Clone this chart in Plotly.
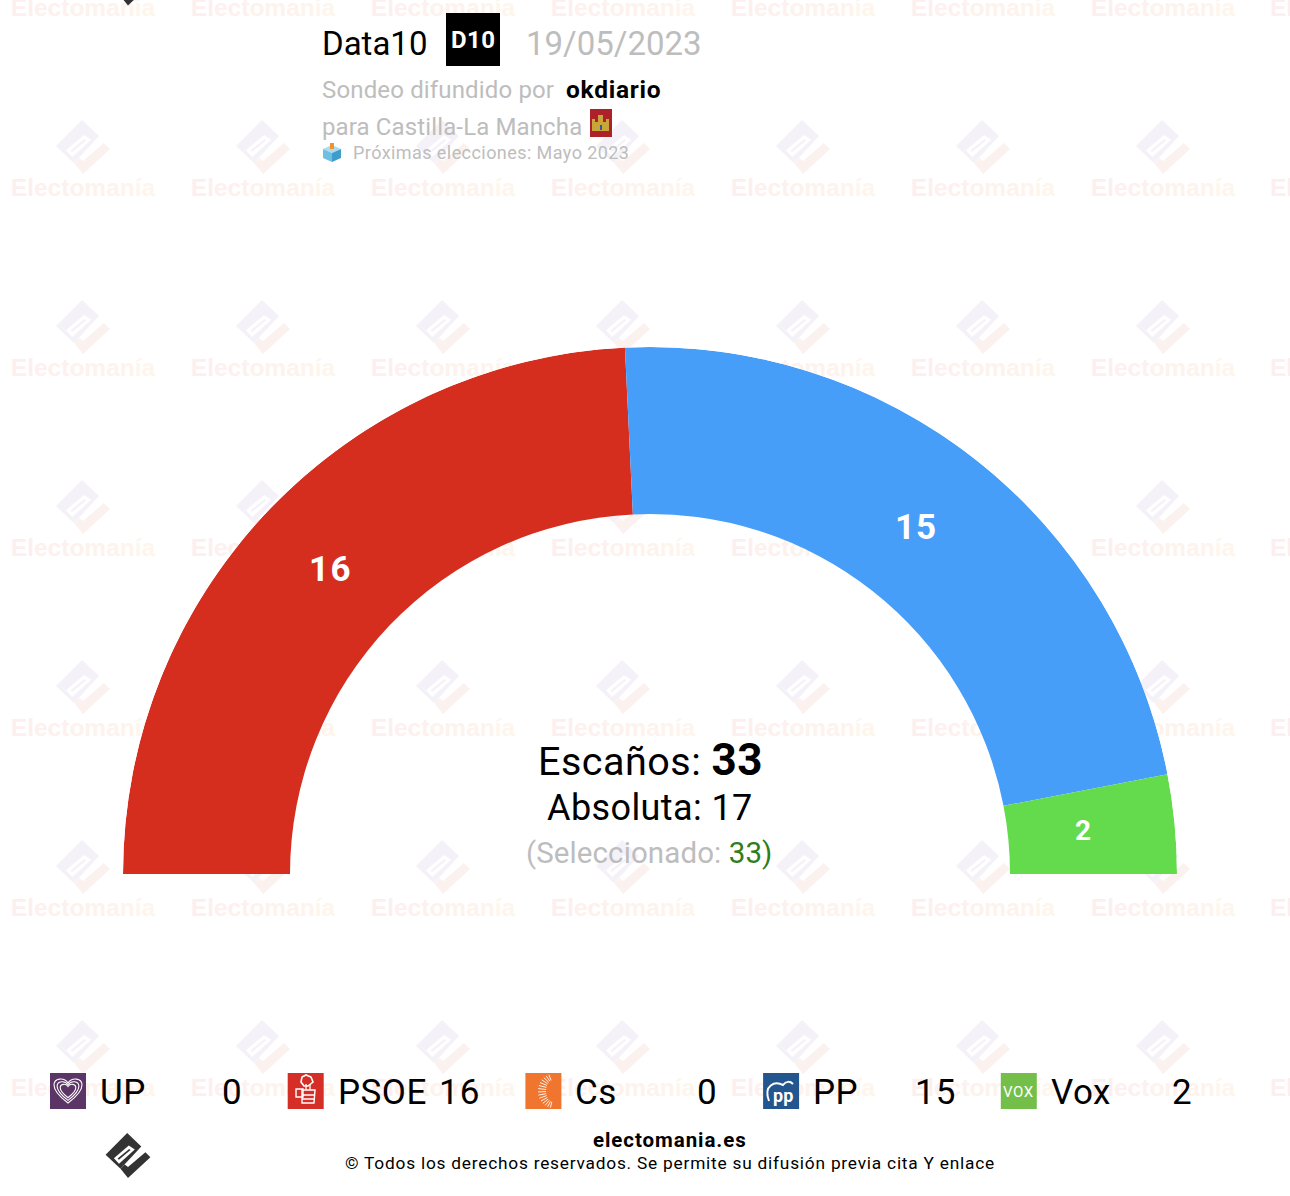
import math
import plotly.graph_objects as go

# ---- data ----
parties = ["UP", "PSOE", "Cs", "PP", "Vox"]
seats = [0, 16, 0, 15, 2]
arc_colors = ["#5a3566", "#d52e1f", "#f0752e", "#469ef9", "#64db4c"]
icon_colors = ["#5a3566", "#d42e26", "#f0752e", "#23558f", "#74bf4a"]
total_seats = 33
majority = 17
selected = 33
pollster = "Data10"
poll_date = "19/05/2023"
media = "okdiario"
region = "Castilla-La Mancha"
next_election = "Próximas elecciones: Mayo 2023"

FONT = "Roboto"
GREY = "#bdbdbd"
W, H = 1290, 1196
CX, CY, R_OUT, R_IN = 650, 874, 527, 360

# ---- half-donut ----
total = sum(seats)
start, widths, centers = 0, [], []
for s in seats:
    w = 180 * s / total
    widths.append(w)
    centers.append(start + w / 2)
    start += w

shapes, annos = [], []


def text(x, y, s, size, color="#000", anchor="center", bold=False, ls=0.0):
    body = f"<b>{s}</b>" if bold else s
    if ls:
        body = f'<span style="letter-spacing:{ls}px">{body}</span>'
    annos.append(dict(x=x, y=y, xref="x", yref="y", text=body,
                      showarrow=False, xanchor=anchor, yanchor="middle", borderpad=0, borderwidth=0,
                      font=dict(family=FONT, size=size, color=color)))


def logo(cx, cy, k, c1, c2, layer="below"):
    pts_a = [(-1, -27), (16, -11), (-9, 16), (-27, -1)]
    hole = [(1, -12), (8.2, -7.2), (-10.8, 10), (-17, 3.3)]
    slot = [(1.5, -8), (3, -6.5), (-11, 5), (-12.5, 3.5)]
    tick = [(-9, 16), (0, 27), (27, 2), (21, -4), (0, 14), (-4, 11)]

    def p(pts):
        return "M" + " L".join(f"{cx + x * k:.1f},{cy + y * k:.1f}" for x, y in pts) + " Z"
    shapes.append(dict(type="path", xref="x", yref="y", layer=layer, line_width=0, fillcolor=c1,
                       path=p(pts_a) + " " + p(hole) + " " + p(slot)))
    shapes.append(dict(type="path", xref="x", yref="y", layer=layer, line_width=0, fillcolor=c2, path=p(tick)))


# ---- watermark ----
wm_word = "Electomanía"
wm_cols = ["#fdefef", "#fdefef", "#fdf0ee", "#fdf0ed", "#fdf1ed", "#fdf2ec", "#fef3ec",
           "#fef3ec", "#fef4ec", "#fef5ec", "#fef5ec"]
wm_text = "".join(f'<span style="color:{c}">{ch}</span>' for ch, c in zip(wm_word, wm_cols))
wm_x, wm_y, wm_edge_y = [], [], []
for j in range(7):
    wm_edge_y.append(8 + 180 * j)
    for i in range(7):
        wm_x.append(83 + 180 * i)
        wm_y.append(8 + 180 * j)
        if j < 6:
            logo(83 + 180 * i, 147 + 180 * j, 1.0, "#f5f1f8", "#fbf2f0")

# ---- top block ----
logo(128, -17, 0.83, "#333333", "#333333", layer="above")
text(322, 43, pollster, 33, anchor="left")
shapes.append(dict(type="rect", xref="x", yref="y", x0=446, x1=500, y0=13, y1=66,
                   fillcolor="#000", line_width=0, layer="above"))
text(473, 40, "D10", 24, color="#fff", bold=True, ls=0.5)
text(526, 43, poll_date, 33, color=GREY, anchor="left")
text(322, 90, "Sondeo difundido por", 24, color=GREY, anchor="left", ls=0.15)
text(566, 89.5, media, 24.5, bold=True, anchor="left", ls=0.75)
text(322, 127, "para " + region, 24, color=GREY, anchor="left", ls=0.13)
text(353, 152, next_election, 18, color=GREY, anchor="left", ls=0.43)
# flag
shapes.append(dict(type="rect", xref="x", yref="y", x0=590, x1=612, y0=109, y1=137,
                   fillcolor="#ad2229", line_width=0, layer="above"))
shapes.append(dict(type="path", xref="x", yref="y", layer="above", line_width=0, fillcolor="#c9a63a",
                   path="M592,131 L592,119 L595,119 L595,122 L598,122 L598,115 L603,115 L603,122 L606,122"
                        " L606,119 L609,119 L609,131 Z"))
shapes.append(dict(type="rect", xref="x", yref="y", x0=600, x1=602, y0=125, y1=130,
                   fillcolor="#2b5aa8", line_width=0, layer="above"))
# ballot box
shapes.append(dict(type="path", xref="x", yref="y", layer="above", line_width=0, fillcolor="#a9dcf2",
                   path="M323,149 L332,145 L341,149 L332,153 Z"))
shapes.append(dict(type="path", xref="x", yref="y", layer="above", line_width=0, fillcolor="#6fbfe3",
                   path="M323,149 L332,153 L332,162 L323,158 Z"))
shapes.append(dict(type="path", xref="x", yref="y", layer="above", line_width=0, fillcolor="#3f9dcb",
                   path="M341,149 L332,153 L332,162 L341,158 Z"))
shapes.append(dict(type="rect", xref="x", yref="y", x0=330, x1=334, y0=143, y1=149,
                   fillcolor="#f0932b", line_width=0, layer="above"))

# ---- centre text ----
text(650, 760, f'Escaños: <b style="font-size:44px">{total_seats}</b>', 39.5, ls=0.5)
text(650, 807.5, f"Absoluta: {majority}", 36, ls=0.4)
text(649, 853, f'(Seleccionado: <span style="color:#2f7d1b">{selected})</span>', 29.5, color=GREY, ls=0.1)

# ---- labels inside the arc ----
label_pos = {"PSOE": (330.5, 569, 35, 1.5), "PP": (915.5, 527, 35, 1.0), "Vox": (1083, 830, 28, 0)}
for name, s in zip(parties, seats):
    if name in label_pos:
        lx, ly, ls_, lsp = label_pos[name]
        text(lx, ly, str(s), ls_, color="#fff", bold=True, ls=lsp)

# ---- legend row ----
STEP = 237.7
for i, (name, s, col) in enumerate(zip(parties, seats, icon_colors)):
    x0 = 50 + STEP * i
    shapes.append(dict(type="rect", xref="x", yref="y", x0=x0, x1=x0 + 36, y0=1073, y1=1109,
                       fillcolor=col, line_width=0, layer="above"))
    text(x0 + 50, 1092, name, 35, anchor="left", ls=0.5)
    text(242.5 + STEP * i, 1092, str(s), 35, anchor="right", ls=1.0)


def white(path, width=1.0, fill="rgba(0,0,0,0)"):
    shapes.append(dict(type="path", xref="x", yref="y", layer="above", path=path, fillcolor=fill,
                       line=dict(color="#fff", width=width)))


# UP heart
for k in (1.0, 0.78, 0.56):
    c = lambda dx, dy: f"{68 + dx * k:.1f},{1091 + dy * k:.1f}"
    white(f"M{c(0, 12)} C{c(-8, 6)} {c(-14, 0)} {c(-14, -6)} C{c(-14, -13)} {c(-4, -14)} {c(0, -8)}"
          f" C{c(4, -14)} {c(14, -13)} {c(14, -6)} C{c(14, 0)} {c(8, 6)} {c(0, 12)} Z", 1.1)
# PSOE fist and rose
white("M302,1090 L302,1103 L314,1103 L315,1090 Z", 1.4)
white("M296,1089 L303,1089 L303,1097 L296,1097 Z", 1.4)
white("M306,1090 L306,1084 M310,1090 L310,1084 M302,1095 L315,1095 M302,1099 L315,1099", 1.3)
white("M301,1082 L302,1077 L306,1075 L311,1077 L313,1082 L308,1086 L304,1086 Z", 1.6)
# Cs rays
for a in range(100, 265, 11):
    ca, sa = math.cos(math.radians(a)), math.sin(math.radians(a))
    white(f"M{553 + 7 * ca:.1f},{1091 + 11 * sa:.1f} L{553 + 15 * ca:.1f},{1091 + 17 * sa:.1f}", 0.9)
# PP
white("M769,1101 C763,1085 775,1081 783,1085 C786,1081 790,1081 793,1084", 2)
text(783, 1095, "pp", 18, color="#fff", bold=True)
# Vox
text(1018, 1092, "VOX", 15, color="#fff", ls=0.6)

# ---- footer ----
logo(128, 1155.5, 0.83, "#333333", "#333333", layer="above")
text(669.5, 1140, "electomania.es", 20.5, bold=True, ls=0.93)
text(669.5, 1163, "© Todos los derechos reservados. Se permite su difusión previa cita Y enlace", 17.3, ls=0.78)

fig = go.Figure()
wm_font = dict(family="Liberation Sans", size=24.5, color="#fdf1ec")
fig.add_trace(go.Scatter(x=wm_x, y=[v + 2 for v in wm_y], mode="text", text=[f"<b>{wm_text}</b>"] * len(wm_x),
                         textposition="middle center", textfont=wm_font,
                         cliponaxis=False, hoverinfo="skip", showlegend=False))
# the eighth watermark column starts inside the page and runs off its right edge
fig.add_trace(go.Scatter(x=[1270] * len(wm_edge_y), y=[v + 2 for v in wm_edge_y], mode="text",
                         text=[f"<b>{wm_text}</b>"] * len(wm_edge_y),
                         textposition="middle right", textfont=wm_font,
                         cliponaxis=False, hoverinfo="skip", showlegend=False))
fig.add_trace(go.Barpolar(theta=centers, width=widths, r=[R_OUT - R_IN] * len(seats), base=R_IN,
                          marker=dict(color=arc_colors, line_width=0), hoverinfo="skip", showlegend=False))

fig.update_layout(
    width=W, height=H, margin=dict(l=0, r=0, t=0, b=0), paper_bgcolor="#fff", plot_bgcolor="rgba(0,0,0,0)",
    showlegend=False, shapes=shapes, annotations=annos,
    xaxis=dict(range=[0, W], visible=False, domain=[0, 1], fixedrange=True),
    yaxis=dict(range=[H, 0], visible=False, domain=[0, 1], fixedrange=True),
    polar=dict(
        domain=dict(x=[(CX - R_OUT) / W, (CX + R_OUT) / W], y=[(H - CY) / H, (H - CY + R_OUT) / H]),
        sector=[0, 180], bgcolor="rgba(0,0,0,0)",
        radialaxis=dict(range=[0, R_OUT], visible=False, showgrid=False),
        angularaxis=dict(direction="clockwise", rotation=180, thetaunit="degrees", visible=False, showgrid=False),
    ),
)
fig.write_html("out.html", config=dict(displayModeBar=False),
               post_script="document.body.style.margin='0';document.documentElement.style.overflow='hidden';")
